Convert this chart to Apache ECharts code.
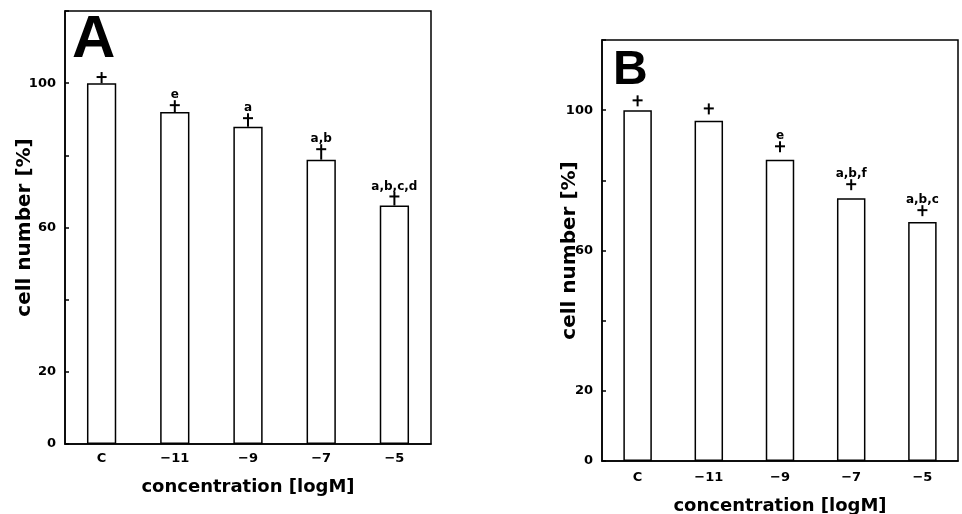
<!DOCTYPE html>
<html>
<head>
<meta charset="utf-8">
<script src="https://cdn.jsdelivr.net/npm/echarts@6/dist/echarts.min.js"></script>
<style>html,body{margin:0;padding:0;background:#fff}#c{width:962px;height:514px}</style>
</head>
<body>
<div id="c"></div>
<script>
var categories = ['C', '\u221211', '\u22129', '\u22127', '\u22125'];
var valuesA = [100, 92, 87.9, 78.8, 66.1];
var errTopA = [101.7, 93.9, 90.3, 81.7, 68.6];
var sigA = ['', 'e', 'a', 'a,b', 'a,b,c,d'];
var valuesB = [100, 97, 85.9, 74.9, 68.1];
var errTopB = [102.8, 100.5, 89.7, 78.9, 71.5];
var sigB = ['', '', 'e', 'a,b,f', 'a,b,c'];
var yLabels = [0, 20, 60, 100];

var FONT = '"DejaVu Sans", sans-serif';
var BIG = '"Liberation Sans", Arial, sans-serif';

function errSeries(idx, values, tops, sigs, connect) {
  return {
    type: 'custom',
    xAxisIndex: idx, yAxisIndex: idx,
    data: tops.map(function (t, i) { return [i, t, values[i]]; }),
    renderItem: function (params, api) {
      var p = api.coord([api.value(0), api.value(1)]);
      var b = api.coord([api.value(0), api.value(2)]);
      var y0 = connect ? b[1] : p[1] + 6;
      var i = params.dataIndex;
      var children = [
        { type: 'line', shape: { x1: p[0], y1: p[1] - 5, x2: p[0], y2: y0 }, style: { stroke: '#000', lineWidth: 2 } },
        { type: 'line', shape: { x1: p[0] - 5, y1: p[1], x2: p[0] + 5, y2: p[1] }, style: { stroke: '#000', lineWidth: 2 } }
      ];
      if (sigs[i]) {
        children.push({ type: 'text', x: p[0], y: p[1] - 4, style: { text: sigs[i], fill: '#000', font: 'bold 12px ' + FONT, align: 'center', verticalAlign: 'bottom' } });
      }
      return { type: 'group', children: children };
    },
    z: 5
  };
}

function xAxis(idx, gap, margin) {
  return {
    type: 'category', gridIndex: idx, data: categories,
    axisLine: { lineStyle: { color: '#000', width: 1.5 } },
    axisTick: { inside: true, alignWithLabel: true, length: 4, lineStyle: { color: '#000', width: 1.5 } },
    axisLabel: { color: '#000', fontWeight: 'bold', fontSize: 13, fontFamily: FONT, margin: margin },
    name: 'concentration [logM]', nameLocation: 'middle', nameGap: gap, nameMoveOverlap: false,
    nameTextStyle: { color: '#000', fontWeight: 'bold', fontSize: 18, fontFamily: FONT }
  };
}
function yAxis(idx, gap) {
  return {
    type: 'value', gridIndex: idx, min: 0, max: 120, interval: 20,
    axisLine: { show: true, lineStyle: { color: '#000', width: 1.5 } },
    axisTick: { show: true, inside: true, length: 4, lineStyle: { color: '#000', width: 1.5 } },
    splitLine: { show: false },
    axisLabel: { color: '#000', fontWeight: 'bold', fontSize: 13, fontFamily: FONT, margin: 9,
      formatter: function (v) { return yLabels.indexOf(v) >= 0 ? String(v) : ''; } },
    name: 'cell number [%]', nameLocation: 'middle', nameGap: gap, nameMoveOverlap: false,
    nameTextStyle: { color: '#000', fontWeight: 'bold', fontSize: 20, fontFamily: FONT }
  };
}
function barSeries(idx, vals) {
  return {
    type: 'bar', xAxisIndex: idx, yAxisIndex: idx, data: vals, barWidth: '40%',
    itemStyle: { color: '#fff', borderColor: '#000', borderWidth: 1.5 }, z: 3
  };
}

var chart = echarts.init(document.getElementById('c'), null, { renderer: 'canvas' });
chart.setOption({
  animation: false,
  backgroundColor: '#fff',
  title: [
    { text: 'A', left: 67, top: 5, textStyle: { fontSize: 60, fontWeight: 900, color: '#000', fontFamily: BIG } },
    { text: 'B', left: 608, top: 42, textStyle: { fontSize: 48, fontWeight: 900, color: '#000', fontFamily: BIG } }
  ],
  grid: [
    { left: 65, top: 11, width: 366, height: 433, show: true, borderColor: '#000', borderWidth: 1.5, backgroundColor: 'transparent', outerBoundsMode: 'none', containLabel: false },
    { left: 602, top: 40, width: 356, height: 421, show: true, borderColor: '#000', borderWidth: 1.5, backgroundColor: 'transparent', outerBoundsMode: 'none', containLabel: false }
  ],
  xAxis: [xAxis(0, 34, 8), xAxis(1, 36, 10)],
  yAxis: [yAxis(0, 30), yAxis(1, 22)],
  series: [
    barSeries(0, valuesA),
    errSeries(0, valuesA, errTopA, sigA, true),
    barSeries(1, valuesB),
    errSeries(1, valuesB, errTopB, sigB, false)
  ]
});
</script>
</body>
</html>
